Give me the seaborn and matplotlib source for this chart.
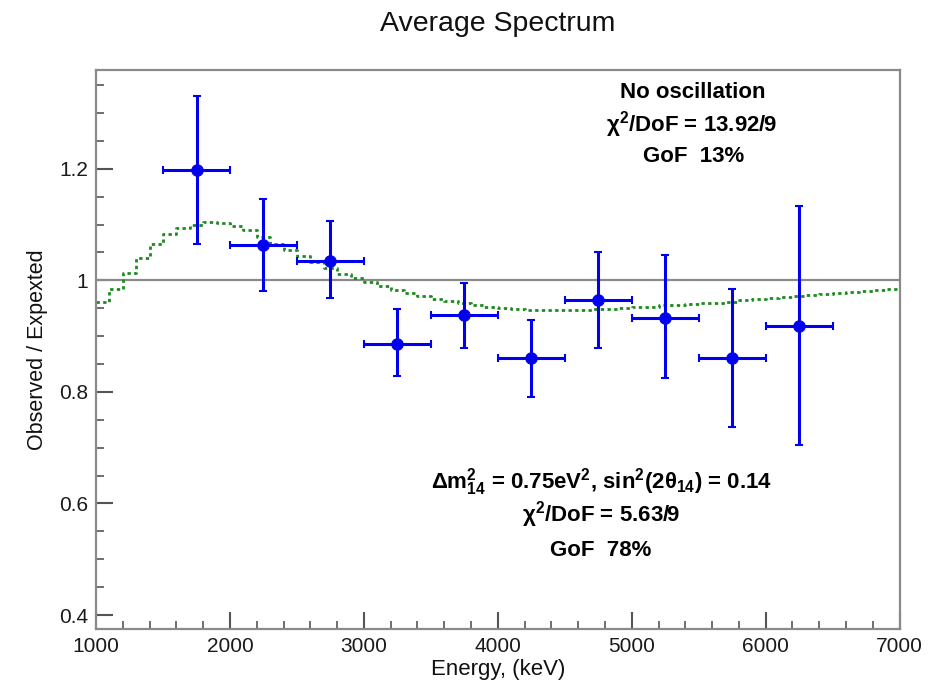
import numpy as np
import pandas as pd
import matplotlib
matplotlib.use("Agg")
import matplotlib.pyplot as plt
import seaborn as sns

# ---- data ----
energy = [1750, 2250, 2750, 3250, 3750, 4250, 4750, 5250, 5750, 6250]
half_width = [250] * 10
ratio = [1.197, 1.063, 1.034, 0.886, 0.937, 0.860, 0.964, 0.933, 0.860, 0.919]
err_up = [0.133, 0.083, 0.072, 0.062, 0.059, 0.068, 0.086, 0.112, 0.124, 0.214]
err_dn = [0.132, 0.083, 0.066, 0.057, 0.058, 0.070, 0.085, 0.108, 0.123, 0.214]

model_edges = list(range(1000, 7000, 100))
model_vals = [0.962, 0.985, 1.013, 1.040, 1.065, 1.083, 1.094, 1.100, 1.104, 1.103,
              1.098, 1.090, 1.078, 1.066, 1.055, 1.043, 1.033, 1.022, 1.012, 1.004,
              0.997, 0.990, 0.983, 0.977, 0.972, 0.967, 0.963, 0.959, 0.956, 0.953,
              0.950, 0.948, 0.947, 0.946, 0.946, 0.946, 0.947, 0.948, 0.949, 0.950,
              0.952, 0.953, 0.955, 0.956, 0.957, 0.959, 0.960, 0.962, 0.964, 0.966,
              0.968, 0.970, 0.972, 0.974, 0.976, 0.977, 0.979, 0.981, 0.982, 0.984]

y_ticks = [0.4, 0.6, 0.8, 1.0, 1.2]
y_tick_labels = ["0.4", "0.6", "0.8", "1", "1.2"]
x_ticks = [1000, 2000, 3000, 4000, 5000, 6000, 7000]

# ---- style ----
sns.set_theme(style="white")
plt.rcParams['font.family'] = ['Liberation Sans', 'DejaVu Sans']
plt.rcParams['mathtext.fontset'] = 'custom'
plt.rcParams['mathtext.rm'] = 'Liberation Sans:bold'
plt.rcParams['mathtext.it'] = 'Liberation Sans:italic:bold'
plt.rcParams['mathtext.bf'] = 'Liberation Sans:bold'

fig = plt.figure(figsize=(9.42, 6.91), dpi=100)
ax = fig.add_axes([0.102, 0.0897, 0.853, 0.809])

# model step curve
mdf = pd.DataFrame({"E": model_edges + [7000], "R": model_vals + [model_vals[-1]]})
sns.lineplot(data=mdf, x="E", y="R", ax=ax, drawstyle="steps-post",
             color="#1f8a1f", linestyle=(0, (1.2, 1.2)), linewidth=2.0, zorder=2)

# reference line at 1
ax.axhline(1.0, color="#8a8a8a", linewidth=1.6, zorder=1)

# data points with error bars
ax.errorbar(energy, ratio, xerr=half_width, yerr=[err_dn, err_up], fmt="none",
            ecolor="#0000ee", elinewidth=2.2, capsize=3, capthick=1.5, zorder=3)
sns.scatterplot(x=energy, y=ratio, ax=ax, color="#0000ee", s=70,
                edgecolor="#0000ee", zorder=4)

ax.set_xlim(1000, 7000)
ax.set_ylim(0.375, 1.377)
ax.set_yticks(y_ticks)
ax.set_yticklabels(y_tick_labels)
ax.set_xticks(x_ticks)
ax.set_xticks(np.arange(1000, 7001, 200), minor=True)
ax.set_yticks(np.arange(0.4, 1.376, 0.05), minor=True)
ax.tick_params(axis="both", which="both", bottom=True, left=True, top=False, right=False)
ax.tick_params(axis="both", which="major", direction="in", length=12, width=1.5,
               color="#555555", labelsize=15, labelcolor="#1a1a1a", pad=6)
ax.tick_params(axis="both", which="minor", direction="in", length=6, width=1.2,
               color="#555555")
for s in ax.spines.values():
    s.set_color("#8a8a8a")
    s.set_linewidth(1.6)

ax.set_xlabel("Energy, (keV)", fontsize=16, color="#111111", labelpad=2)
ax.set_ylabel("Observed / Expexted", fontsize=15.5, color="#111111", labelpad=8)
fig.text(0.528, 0.965, "Average Spectrum", ha="center", va="center",
         fontsize=20.5, color="#111111")

tkw = dict(ha="center", va="center", fontsize=16, color="#000000",
           fontweight="bold", transform=fig.transFigure)
fig.text(693 / 942, 1 - 92 / 691, "No oscillation", **tkw)
fig.text(691 / 942, 1 - 125 / 691, r"$\mathrm{\chi}^{2}$/DoF = 13.92/9", **tkw)
fig.text(694 / 942, 1 - 157 / 691, "GoF  13%", **tkw)
fig.text(602 / 942, 1 - 482 / 691,
         r"$\Delta$m$^{2}_{14}$ = 0.75eV$^{2}$, sin$^{2}$(2$\mathrm{\theta}_{14}$) = 0.14", **tkw)
fig.text(601 / 942, 1 - 515 / 691, r"$\mathrm{\chi}^{2}$/DoF = 5.63/9", **tkw)
fig.text(601 / 942, 1 - 550 / 691, "GoF  78%", **tkw)

fig.savefig("out.png", dpi=100)
